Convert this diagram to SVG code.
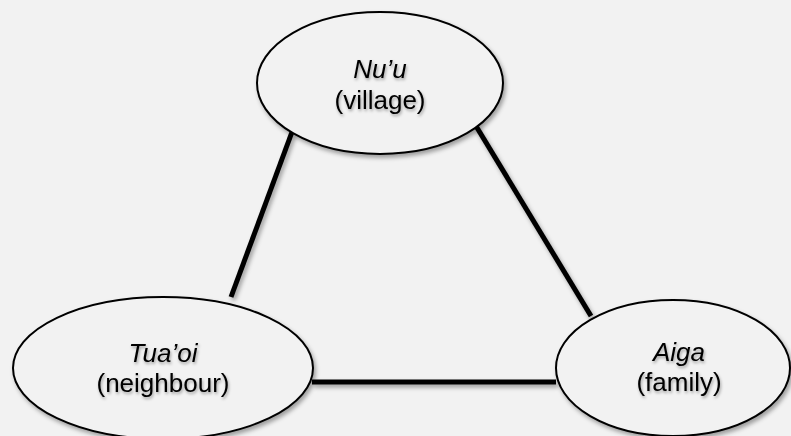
<svg xmlns="http://www.w3.org/2000/svg" width="791" height="436" viewBox="0 0 791 436">
<defs>
<filter id="sh" x="-20%" y="-20%" width="140%" height="140%">
<feDropShadow dx="2" dy="3" stdDeviation="2" flood-color="#000" flood-opacity="0.35"/>
</filter>
<filter id="lsh" filterUnits="userSpaceOnUse" x="0" y="0" width="791" height="436">
<feDropShadow dx="2" dy="3" stdDeviation="2" flood-color="#000" flood-opacity="0.35"/>
</filter>
<filter id="tsh" x="-20%" y="-30%" width="140%" height="160%">
<feDropShadow dx="1" dy="2" stdDeviation="1.5" flood-color="#000" flood-opacity="0.35"/>
</filter>
</defs>
<style>
.node ellipse{fill:#f2f2f2;stroke:#000;stroke-width:2;filter:url(#sh)}
.node text{font-family:"Liberation Sans",Arial,sans-serif;font-size:26px;fill:#000;text-anchor:middle;filter:url(#tsh)}
.it{font-style:italic}
.conn line{stroke:#000;stroke-width:5}
</style>
<rect width="791" height="436" fill="#f2f2f2"/>
<g class="conn" id="connectors" filter="url(#lsh)">
<line x1="292" y1="132" x2="231" y2="297"/>
<line x1="476" y1="126" x2="591" y2="316"/>
<line x1="312" y1="382" x2="556" y2="382"/>
</g>
<g class="node" id="nuu">
<ellipse cx="380" cy="83" rx="123" ry="71"/>
<text x="380" y="78" class="it">Nu’u</text>
<text x="380" y="109">(village)</text>
</g>
<g class="node" id="tuaoi">
<ellipse cx="163" cy="368" rx="150" ry="71"/>
<text x="163" y="362" class="it">Tua’oi</text>
<text x="163" y="392">(neighbour)</text>
</g>
<g class="node" id="aiga">
<ellipse cx="673" cy="368" rx="117" ry="68"/>
<text x="679" y="361" class="it">Aiga</text>
<text x="679" y="391">(family)</text>
</g>
</svg>
